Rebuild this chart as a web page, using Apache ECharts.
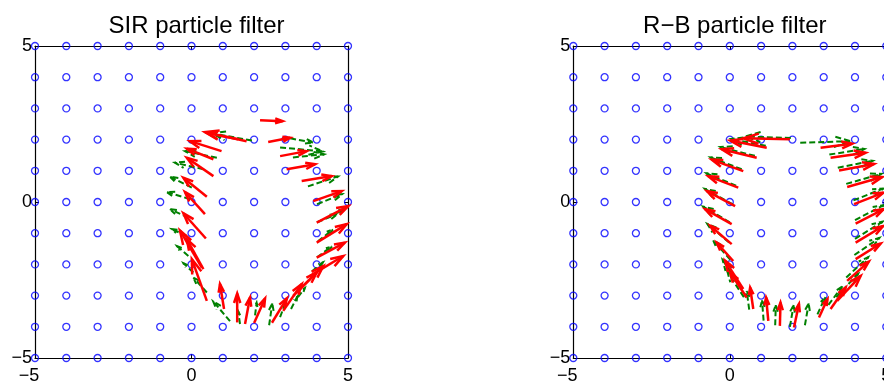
<!DOCTYPE html>
<html><head><meta charset="utf-8">
<script src="https://cdn.jsdelivr.net/npm/echarts@6/dist/echarts.min.js"></script>
<style>html,body{margin:0;padding:0;overflow:hidden;background:#fff}#c{width:900px;height:383px}</style>
</head><body><div id="c"></div><script>
// grid of measurement sites (blue circles)
const gridVals = [-5,-4,-3,-2,-1,0,1,2,3,4,5];
const tickVals = [-5,0,5];
const titles = ['SIR particle filter', 'R\u2212B particle filter'];

// arrows: [x, y, u, v]
const sirRed = [
  [2.19,2.62,0.72,-0.03],[1.76,1.95,-1.33,0.29],[1.49,2.01,-0.99,0.20],[0.96,1.63,-1.01,0.32],
  [0.70,1.37,-0.85,0.34],[0.70,0.83,-0.85,0.59],[0.49,0.17,-0.75,0.61],[0.43,-0.39,-0.64,0.71],
  [0.46,-1.17,-0.72,0.81],[0.33,-2.10,-0.70,1.19],[0.38,-2.15,-0.53,0.96],[0.49,-3.17,-0.48,1.34],
  [1.04,-3.43,-0.13,0.80],[1.46,-3.86,0.00,0.93],[1.71,-3.91,0.16,0.85],[2.00,-3.88,0.35,0.79],
  [2.57,-3.87,0.48,0.79],[2.93,-3.49,0.59,0.86],[3.25,-3.01,0.75,0.75],[3.36,-2.90,0.85,0.85],
  [3.79,-2.37,1.06,0.64],[4.00,-1.78,0.90,0.48],[4.00,-1.30,0.96,0.59],[4.00,-0.66,1.01,0.53],
  [3.89,0.03,0.91,0.32],[3.52,0.67,0.96,0.16],[3.04,1.05,0.91,0.16],[2.83,1.47,0.85,0.16],
  [2.45,1.92,0.70,0.14]
];
const sirGreen = [
  [1.93,1.97,-1.27,0.23],[0.81,1.42,-1.02,0.21],[0.38,1.05,-0.91,0.21],[0.01,0.46,-0.70,0.35],
  [-0.05,0.09,-0.74,0.23],[-0.10,-0.50,-0.59,0.27],[-0.15,-1.09,-0.48,0.22],[-0.10,-1.73,-0.37,0.32],
  [0.06,-2.26,-0.32,0.30],[0.49,-2.90,-0.43,0.48],[1.23,-3.82,-0.54,0.64],[1.55,-3.91,-0.06,0.41],
  [2.03,-3.63,0.05,0.40],[2.48,-3.95,0.10,0.70],[2.83,-3.69,0.15,0.40],[3.18,-3.43,0.20,0.40],
  [3.40,-3.05,0.22,0.29],[3.85,-2.22,0.35,0.29],[4.01,-1.77,0.48,0.35],[4.04,-1.26,0.48,0.38],
  [4.01,-0.65,0.64,0.26],[4.36,-0.49,0.54,0.26],[4.01,-0.07,0.80,0.32],[3.72,0.50,0.96,0.32],
  [3.24,1.43,1.00,0.10],[2.83,1.75,1.37,-0.13],[3.15,2.04,0.73,-0.13]
];
const rbRed = [
  [1.92,2.01,-1.49,0.03],[1.18,1.74,-1.17,0.23],[0.86,1.42,-1.12,0.27],[0.43,0.99,-1.01,0.37],
  [0.27,0.46,-0.96,0.37],[0.17,-0.13,-0.90,0.48],[0.06,-0.71,-0.85,0.48],[0.06,-1.35,-0.69,0.59],
  [0.11,-1.89,-0.53,0.59],[0.43,-2.79,-0.58,0.91],[0.54,-3.06,-0.53,0.80],[0.75,-3.43,-0.10,0.69],
  [1.23,-3.81,-0.07,0.75],[1.60,-3.97,0.02,0.75],[2.05,-4.02,0.16,0.75],[2.85,-3.70,0.27,0.59],
  [3.22,-3.43,0.48,0.69],[3.43,-3.17,0.75,0.80],[3.75,-2.53,0.69,0.62],[4.02,-1.83,0.80,0.50],
  [4.02,-1.30,0.88,0.53],[4.02,-0.69,0.90,0.46],[3.97,-0.07,0.94,0.37],[3.75,0.48,1.12,0.32],
  [3.49,1.01,1.12,0.21],[3.22,1.42,1.12,0.16],[2.90,1.74,1.01,0.13]
];
const rbGreen = [
  [1.95,2.05,-1.45,0.05],[1.15,1.80,-1.10,0.22],[0.80,1.48,-1.10,0.28],[0.38,1.05,-1.00,0.38],
  [0.20,0.52,-0.95,0.40],[0.10,-0.08,-0.90,0.50],[0.00,-0.65,-0.85,0.50],[-0.02,-1.30,-0.70,0.60],
  [0.02,-1.85,-0.55,0.62],[0.35,-2.75,-0.58,0.90],[0.45,-3.05,-0.52,0.80],[0.62,-3.45,-0.08,0.60],
  [1.08,-3.80,-0.05,0.65],[1.45,-3.95,0.02,0.65],[1.92,-4.00,0.12,0.70],[2.40,-3.95,0.12,0.70],
  [2.80,-3.60,0.25,0.55],[3.15,-3.30,0.45,0.60],[3.40,-3.05,0.70,0.75],[3.72,-2.42,0.70,0.65],
  [3.98,-1.70,0.80,0.55],[4.00,-1.18,0.88,0.55],[4.00,-0.58,0.92,0.48],[3.95,0.05,0.95,0.38],
  [3.72,0.58,1.12,0.32],[3.45,1.10,1.12,0.22],[3.18,1.52,1.12,0.18],[2.25,1.90,1.60,0.05]
];

const FONT = "'Liberation Sans', Arial, Helvetica, sans-serif";
const sites = [];
gridVals.forEach(function(x){ gridVals.forEach(function(y){ sites.push([x,y]); }); });

function fmt(v){ return v < 0 ? '\u2212' + (-v) : String(v); }

function arrowRender(color, dashed, width){
  return function(params, api){
    const x = api.value(0), y = api.value(1), u = api.value(2), v = api.value(3);
    const p0 = api.coord([x, y]);
    const p1 = api.coord([x + u, y + v]);
    const dx = p1[0]-p0[0], dy = p1[1]-p0[1];
    const a = 0.33, b = 0.33;
    const h1 = [p1[0]-a*(dx+b*dy), p1[1]-a*(dy-b*dx)];
    const h2 = [p1[0]-a*(dx-b*dy), p1[1]-a*(dy+b*dx)];
    const st = {stroke: color, lineWidth: width, fill: null, lineDash: dashed ? [6,3] : null, lineJoin:'miter'};
    return {type:'group', children:[
      {type:'line', shape:{x1:p0[0],y1:p0[1],x2:p1[0],y2:p1[1]}, style: st},
      {type:'polyline', shape:{points:[h1,p1,h2]}, style: st}
    ]};
  };
}

const grids = [
  {left:35, top:46, width:313, height:312, containLabel:false, outerBoundsMode:'none'},
  {left:573.3, top:46, width:313, height:312, containLabel:false, outerBoundsMode:'none'}
];
const xAxes = [], yAxes = [];
[0,1].forEach(function(g){
  const base = {type:'value', min:-5, max:5, interval:5, gridIndex:g,
    axisLine:{show:true, onZero:false, lineStyle:{color:'#000', width:1.2}},
    axisTick:{show:true, inside:true, length:4, lineStyle:{color:'#000'}},
    splitLine:{show:false}};
  xAxes.push(Object.assign({}, base, {position:'bottom',
    axisLabel:{show:true, margin:9, color:'#000', fontSize:18, fontFamily:FONT,
      formatter:function(v){ return v === -5 ? '{m|' + fmt(v) + '}' : fmt(v); },
      rich:{m:{padding:[0,12,0,0], fontSize:18, fontFamily:FONT, color:'#000'}}}}));
  xAxes.push(Object.assign({}, base, {position:'top', axisLabel:{show:false}}));
  yAxes.push(Object.assign({}, base, {position:'left',
    axisLabel:{show:true, margin:3, color:'#000', fontSize:18, fontFamily:FONT, formatter:fmt}}));
  yAxes.push(Object.assign({}, base, {position:'right', axisLabel:{show:false}}));
});

const series = [];
const sets = [[sirGreen, sirRed], [rbGreen, rbRed]];
[0,1].forEach(function(g){
  series.push({type:'scatter', xAxisIndex:2*g, yAxisIndex:2*g, data:sites, symbol:'circle', symbolSize:7,
    clip:false, silent:true, itemStyle:{color:'rgba(0,0,0,0)', borderColor:'#0000ff', borderWidth:1.3}, z:2});
  series.push({type:'custom', xAxisIndex:2*g, yAxisIndex:2*g, data:sets[g][0], clip:false,
    renderItem: arrowRender('#008000', true, 2), z:3, silent:true});
  series.push({type:'custom', xAxisIndex:2*g, yAxisIndex:2*g, data:sets[g][1], clip:false,
    renderItem: arrowRender('#ff0000', false, 2.5), z:4, silent:true});
});

const chart = echarts.init(document.getElementById('c'), null, {renderer:'canvas'});
chart.setOption({
  backgroundColor:'#fff',
  animation:false,
  title:[
    {text:titles[0], left:191.5, top:9, textAlign:'center', textStyle:{fontSize:24, fontWeight:'normal', color:'#000', fontFamily:FONT}},
    {text:titles[1], left:729.8, top:9, textAlign:'center', textStyle:{fontSize:24, fontWeight:'normal', color:'#000', fontFamily:FONT}}
  ],
  grid: grids, xAxis: xAxes, yAxis: yAxes, series: series
});
</script></body></html>
